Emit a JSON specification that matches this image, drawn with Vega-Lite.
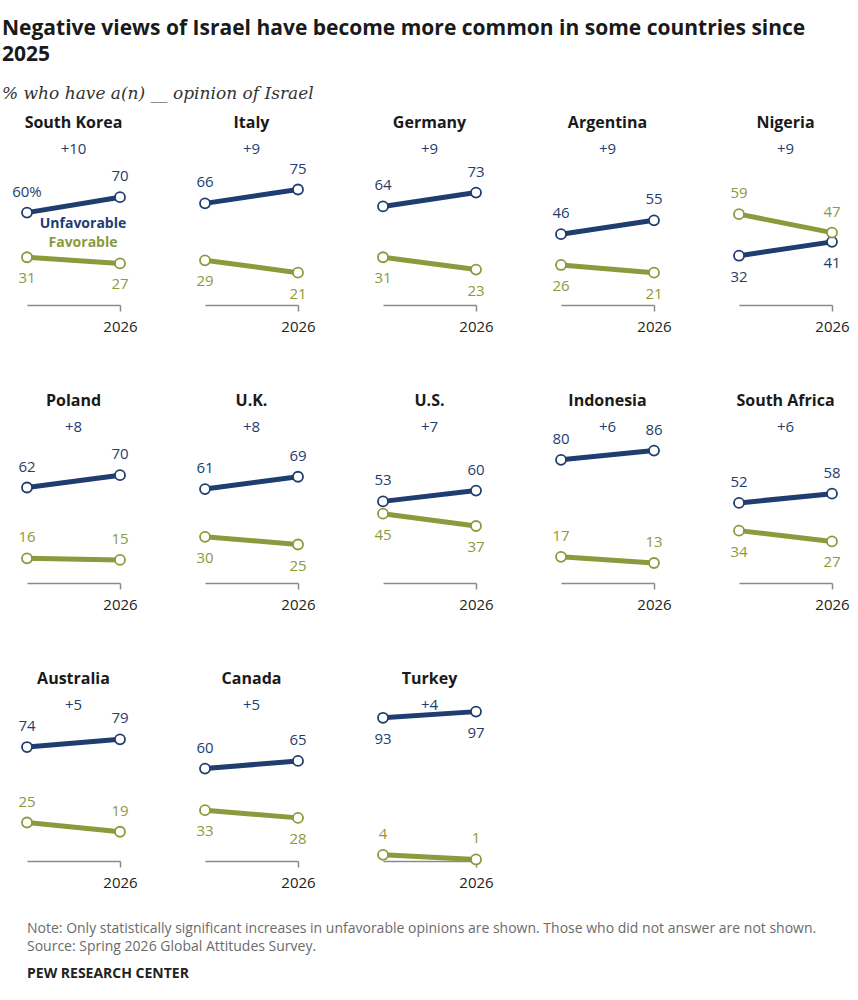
{
  "$schema": "https://vega.github.io/schema/vega-lite/v6.json",
  "background": "white",
  "padding": {"left": 2, "right": 2, "top": 18, "bottom": 4},
  "spacing": 30,
  "title": {
    "text": ["Negative views of Israel have become more common in some countries since", "2025"],
    "subtitle": "% who have a(n) __ opinion of Israel",
    "anchor": "start",
    "font": "Open Sans",
    "fontSize": 21,
    "fontWeight": "bold",
    "color": "#1a1a1a",
    "lineHeight": 26,
    "subtitleFont": "DejaVu Serif",
    "subtitleFontStyle": "italic",
    "subtitleFontSize": 17,
    "subtitleColor": "#333333",
    "subtitlePadding": 21,
    "offset": 13
  },
  "config": {
    "view": {"stroke": null},
    "font": "Open Sans"
  },
  "datasets": {
    "opinion": [
      {"country": "South Korea", "series": "Unfavorable", "year": 2025, "value": 60},
      {"country": "South Korea", "series": "Unfavorable", "year": 2026, "value": 70, "change": "+10"},
      {"country": "South Korea", "series": "Favorable", "year": 2025, "value": 31},
      {"country": "South Korea", "series": "Favorable", "year": 2026, "value": 27},
      {"country": "Italy", "series": "Unfavorable", "year": 2025, "value": 66},
      {"country": "Italy", "series": "Unfavorable", "year": 2026, "value": 75, "change": "+9"},
      {"country": "Italy", "series": "Favorable", "year": 2025, "value": 29},
      {"country": "Italy", "series": "Favorable", "year": 2026, "value": 21},
      {"country": "Germany", "series": "Unfavorable", "year": 2025, "value": 64},
      {"country": "Germany", "series": "Unfavorable", "year": 2026, "value": 73, "change": "+9"},
      {"country": "Germany", "series": "Favorable", "year": 2025, "value": 31},
      {"country": "Germany", "series": "Favorable", "year": 2026, "value": 23},
      {"country": "Argentina", "series": "Unfavorable", "year": 2025, "value": 46},
      {"country": "Argentina", "series": "Unfavorable", "year": 2026, "value": 55, "change": "+9"},
      {"country": "Argentina", "series": "Favorable", "year": 2025, "value": 26},
      {"country": "Argentina", "series": "Favorable", "year": 2026, "value": 21},
      {"country": "Nigeria", "series": "Unfavorable", "year": 2025, "value": 32},
      {"country": "Nigeria", "series": "Unfavorable", "year": 2026, "value": 41, "change": "+9"},
      {"country": "Nigeria", "series": "Favorable", "year": 2025, "value": 59},
      {"country": "Nigeria", "series": "Favorable", "year": 2026, "value": 47},
      {"country": "Poland", "series": "Unfavorable", "year": 2025, "value": 62},
      {"country": "Poland", "series": "Unfavorable", "year": 2026, "value": 70, "change": "+8"},
      {"country": "Poland", "series": "Favorable", "year": 2025, "value": 16},
      {"country": "Poland", "series": "Favorable", "year": 2026, "value": 15},
      {"country": "U.K.", "series": "Unfavorable", "year": 2025, "value": 61},
      {"country": "U.K.", "series": "Unfavorable", "year": 2026, "value": 69, "change": "+8"},
      {"country": "U.K.", "series": "Favorable", "year": 2025, "value": 30},
      {"country": "U.K.", "series": "Favorable", "year": 2026, "value": 25},
      {"country": "U.S.", "series": "Unfavorable", "year": 2025, "value": 53},
      {"country": "U.S.", "series": "Unfavorable", "year": 2026, "value": 60, "change": "+7"},
      {"country": "U.S.", "series": "Favorable", "year": 2025, "value": 45},
      {"country": "U.S.", "series": "Favorable", "year": 2026, "value": 37},
      {"country": "Indonesia", "series": "Unfavorable", "year": 2025, "value": 80},
      {"country": "Indonesia", "series": "Unfavorable", "year": 2026, "value": 86, "change": "+6"},
      {"country": "Indonesia", "series": "Favorable", "year": 2025, "value": 17},
      {"country": "Indonesia", "series": "Favorable", "year": 2026, "value": 13},
      {"country": "South Africa", "series": "Unfavorable", "year": 2025, "value": 52},
      {"country": "South Africa", "series": "Unfavorable", "year": 2026, "value": 58, "change": "+6"},
      {"country": "South Africa", "series": "Favorable", "year": 2025, "value": 34},
      {"country": "South Africa", "series": "Favorable", "year": 2026, "value": 27},
      {"country": "Australia", "series": "Unfavorable", "year": 2025, "value": 74},
      {"country": "Australia", "series": "Unfavorable", "year": 2026, "value": 79, "change": "+5"},
      {"country": "Australia", "series": "Favorable", "year": 2025, "value": 25},
      {"country": "Australia", "series": "Favorable", "year": 2026, "value": 19},
      {"country": "Canada", "series": "Unfavorable", "year": 2025, "value": 60},
      {"country": "Canada", "series": "Unfavorable", "year": 2026, "value": 65, "change": "+5"},
      {"country": "Canada", "series": "Favorable", "year": 2025, "value": 33},
      {"country": "Canada", "series": "Favorable", "year": 2026, "value": 28},
      {"country": "Turkey", "series": "Unfavorable", "year": 2025, "value": 93},
      {"country": "Turkey", "series": "Unfavorable", "year": 2026, "value": 97, "change": "+4"},
      {"country": "Turkey", "series": "Favorable", "year": 2025, "value": 4},
      {"country": "Turkey", "series": "Favorable", "year": 2026, "value": 1}
    ],
    "notes": [
      {"row": 1, "kind": "note", "line": "Note: Only statistically significant increases in unfavorable opinions are shown. Those who did not answer are not shown."},
      {"row": 2, "kind": "note", "line": "Source: Spring 2026 Global Attitudes Survey."},
      {"row": 3, "kind": "credit", "line": "PEW RESEARCH CENTER"}
    ]
  },
  "vconcat": [
    {
      "data": {"name": "opinion"},
      "transform": [
        {"joinaggregate": [{"op": "max", "field": "value", "as": "maxv"}], "groupby": ["country", "year"]},
        {"joinaggregate": [{"op": "min", "field": "value", "as": "mins"}], "groupby": ["country", "series"]}
      ],
      "facet": {
        "field": "country",
        "type": "nominal",
        "sort": ["South Korea", "Italy", "Germany", "Argentina", "Nigeria", "Poland", "U.K.", "U.S.", "Indonesia", "South Africa", "Australia", "Canada", "Turkey"],
        "header": {
          "title": null,
          "labelFont": "Open Sans",
          "labelFontSize": 16,
          "labelFontWeight": "bold",
          "labelColor": "#1a1a1a",
          "labelPadding": 11
        }
      },
      "columns": 5,
      "spacing": {"column": 42, "row": 59},
      "resolve": {"axis": {"x": "independent", "y": "independent"}},
      "spec": {
        "width": 93,
        "height": 154,
        "encoding": {
          "x": {
            "field": "year",
            "type": "quantitative",
            "scale": {"domain": [2025, 2026], "nice": false, "zero": false},
            "axis": {
              "title": null,
              "values": [2026],
              "format": "d",
              "labelFlush": false,
              "labelFont": "Open Sans",
              "labelFontSize": 15,
              "labelColor": "#222222",
              "labelPadding": 8,
              "domainColor": "#8a8a8a",
              "domainWidth": 1.5,
              "tickColor": "#8a8a8a",
              "tickWidth": 1.5,
              "tickSize": 6,
              "grid": false
            }
          },
          "y": {
            "field": "value",
            "type": "quantitative",
            "scale": {"domain": [0, 100], "nice": false},
            "axis": {
              "title": " ",
              "titleFontSize": 16,
              "titlePadding": 9,
              "minExtent": 0,
              "labels": false,
              "ticks": false,
              "domain": false,
              "grid": false
            }
          },
          "color": {
            "field": "series",
            "type": "nominal",
            "scale": {"domain": ["Unfavorable", "Favorable"], "range": ["#1f3d6f", "#8a9a3c"]},
            "legend": null
          }
        },
        "layer": [
          {
            "mark": {"type": "line", "strokeWidth": 5}
          },
          {
            "mark": {"type": "point", "shape": "circle", "filled": false, "fill": "white", "size": 100, "strokeWidth": 1.8, "opacity": 1}
          },
          {
            "transform": [{"filter": "datum.value === datum.maxv ? datum.value < 88 : datum.mins < 20"}],
            "mark": {"type": "text", "dy": -21, "fontSize": 15, "font": "Open Sans", "baseline": "middle"},
            "encoding": {
              "text": {
                "condition": {"test": "datum.country === 'South Korea' && datum.year === 2025 && datum.series === 'Unfavorable'", "value": "60%"},
                "field": "value",
                "type": "quantitative"
              }
            }
          },
          {
            "transform": [{"filter": "!(datum.value === datum.maxv ? datum.value < 88 : datum.mins < 20)"}],
            "mark": {"type": "text", "dy": 21, "fontSize": 15, "font": "Open Sans", "baseline": "middle"},
            "encoding": {
              "text": {"field": "value", "type": "quantitative"}
            }
          },
          {
            "transform": [{"filter": "isValid(datum.change)"}],
            "mark": {"type": "text", "fontSize": 15, "font": "Open Sans", "baseline": "middle"},
            "encoding": {
              "x": {"datum": 2025.5},
              "y": {"datum": 101},
              "text": {"field": "change", "type": "nominal"}
            }
          },
          {
            "transform": [{"filter": "datum.country === 'South Korea' && datum.year === 2025 && datum.series === 'Unfavorable'"}],
            "mark": {"type": "text", "dx": 56, "dy": 11, "fontSize": 14, "fontWeight": "bold", "font": "Open Sans", "baseline": "middle"},
            "encoding": {
              "text": {"field": "series", "type": "nominal"}
            }
          },
          {
            "transform": [{"filter": "datum.country === 'South Korea' && datum.year === 2025 && datum.series === 'Favorable'"}],
            "mark": {"type": "text", "dx": 56, "dy": -14, "fontSize": 14, "fontWeight": "bold", "font": "Open Sans", "baseline": "middle"},
            "encoding": {
              "text": {"field": "series", "type": "nominal"}
            }
          }
        ]
      }
    },
    {
      "width": 840,
      "height": 54,
      "data": {"name": "notes"},
      "encoding": {
        "x": {"datum": 0, "type": "quantitative", "scale": {"domain": [0, 1]}, "axis": null},
        "y": {"field": "row", "type": "ordinal", "axis": null},
        "text": {"field": "line", "type": "nominal"}
      },
      "layer": [
        {
          "transform": [{"filter": "datum.kind === 'note'"}],
          "mark": {"type": "text", "align": "left", "baseline": "middle", "fontSize": 14, "font": "Open Sans", "color": "#6b6b6b"}
        },
        {
          "transform": [{"filter": "datum.kind === 'credit'"}],
          "mark": {"type": "text", "align": "left", "baseline": "middle", "fontSize": 14, "fontWeight": "bold", "font": "Open Sans", "color": "#222222", "dy": 9}
        }
      ]
    }
  ]
}
